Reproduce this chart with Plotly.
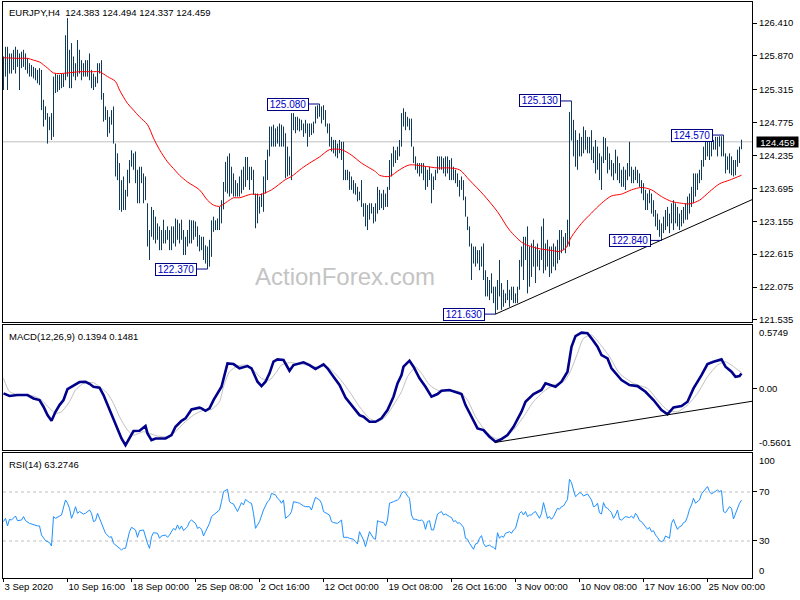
import plotly.graph_objects as go

# ---------------- data ----------------
symbol_title = "EURJPY,H4  124.383 124.494 124.337 124.459"
macd_title = "MACD(12,26,9) 0.1394 0.1481"
rsi_title = "RSI(14) 63.2746"
watermark = "ActionForex.com"

# H4 bar highs / lows, bar index 0..369 (left to right)
highs = [
    125.86, 126.02, 126.02, 125.91, 125.91, 125.97, 126.02, 125.97, 125.91, 125.94,
    125.97, 125.91, 125.83, 125.75, 125.72, 125.69, 125.67, 125.64, 125.67, 125.64,
    125.15, 125.04, 124.93, 124.87, 124.93, 125.53, 125.58, 125.56, 125.56, 125.58,
    125.58, 126.21, 126.49, 125.97, 126.08, 125.86, 125.75, 126.13, 125.97, 125.80,
    125.75, 125.80, 125.80, 125.91, 125.64, 125.58, 125.53, 125.75, 125.75, 125.80,
    125.26, 125.04, 124.98, 124.87, 124.98, 125.04, 124.43, 124.27, 124.11, 123.83,
    123.89, 123.67, 124.00, 124.16, 124.32, 124.27, 124.30, 124.00, 124.05, 124.05,
    123.94, 123.89, 123.45, 123.01, 123.39, 123.34, 123.23, 123.12, 123.07, 123.01,
    123.18, 123.01, 123.07, 123.01, 123.07, 123.07, 123.20, 123.18, 123.12, 123.18,
    123.01, 122.90, 123.01, 123.18, 123.17, 123.17, 123.15, 123.07, 122.93, 122.90,
    122.90, 122.76, 122.74, 122.85, 123.17, 123.23, 123.17, 123.20, 123.39, 123.50,
    123.80, 124.13, 124.22, 124.27, 124.05, 123.94, 123.83, 123.78, 123.89, 124.00,
    124.05, 124.21, 124.21, 124.05, 124.05, 124.00, 123.61, 123.61, 123.56, 123.61,
    123.89, 124.16, 124.33, 124.71, 124.71, 124.74, 124.68, 124.71, 124.76, 124.74,
    124.71, 124.60, 124.38, 124.22, 124.93, 124.93, 124.87, 124.87, 124.84, 124.82,
    124.76, 124.82, 124.76, 124.76, 124.76, 124.79, 125.04, 125.06, 125.08, 125.04,
    125.06, 124.98, 124.76, 124.76, 124.54, 124.49, 124.49, 124.43, 124.49, 124.46,
    124.46, 124.00, 124.00, 123.97, 123.89, 123.83, 123.78, 123.72, 123.64, 123.83,
    123.45, 123.45, 123.42, 123.45, 123.45, 123.39, 123.45, 123.72, 123.67, 123.61,
    123.67, 123.61, 123.72, 124.16, 124.27, 124.38, 124.32, 124.38, 124.49, 124.93,
    125.01, 124.95, 124.87, 124.84, 124.84, 124.38, 124.22, 124.11, 124.11, 124.11,
    124.11, 124.05, 124.00, 124.05, 123.94, 123.89, 124.00, 124.22, 124.22, 124.22,
    124.19, 124.22, 124.22, 124.16, 124.19, 124.05, 124.00, 123.94, 123.83, 123.89,
    123.83, 123.56, 123.23, 123.07, 122.79, 122.74, 122.74, 122.68, 122.68, 122.74,
    122.79, 122.35, 122.24, 122.19, 122.30, 122.08, 122.08, 122.19, 122.52, 122.14,
    122.03, 121.97, 122.19, 122.03, 122.08, 122.08, 121.97, 122.08, 122.52, 122.74,
    122.90, 122.90, 123.07, 122.74, 122.79, 122.85, 122.74, 122.79, 122.68, 123.07,
    123.20, 122.79, 122.85, 122.74, 122.74, 122.79, 122.74, 122.85, 123.01, 123.01,
    122.90, 122.96, 123.18, 124.95, 125.13, 124.82, 124.65, 124.49, 124.60, 124.54,
    124.71, 124.65, 124.54, 124.54, 124.65, 124.38, 124.49, 124.38, 124.27, 124.22,
    124.54, 124.52, 124.38, 124.27, 124.16, 124.11, 124.33, 124.22, 124.11, 124.00,
    124.05, 124.00, 124.11, 124.46, 124.05, 124.00, 124.05, 124.00, 123.94, 123.83,
    123.78, 123.67, 123.61, 123.67, 123.61, 123.50, 123.34, 123.28, 123.18, 123.12,
    123.23, 123.34, 123.39, 123.28, 123.45, 123.50, 123.45, 123.39, 123.28, 123.34,
    123.39, 123.45, 123.56, 123.61, 123.72, 123.94, 123.94, 123.94, 124.00, 124.16,
    124.38, 124.49, 124.55, 124.54, 124.55, 124.49, 124.54, 124.54, 124.55, 124.55,
    124.57, 124.27, 124.22, 124.27, 124.22, 124.16, 124.16, 124.33, 124.38, 124.494,
]
lows = [
    125.31, 125.53, 125.31, 125.58, 125.58, 125.64, 125.58, 125.69, 125.31, 125.67,
    125.69, 125.64, 125.58, 125.53, 125.53, 125.50, 125.47, 125.42, 125.39, 124.98,
    124.71, 124.82, 124.43, 124.65, 124.49, 124.54, 125.26, 125.28, 125.31, 125.34,
    125.36, 125.47, 125.53, 125.34, 125.34, 125.53, 125.47, 125.53, 125.58, 125.47,
    125.53, 125.53, 125.53, 125.47, 125.34, 125.31, 125.36, 125.42, 125.58, 125.15,
    124.79, 124.82, 124.54, 124.60, 124.74, 124.43, 123.89, 123.83, 123.34, 123.31,
    123.34, 123.34, 123.56, 123.78, 124.05, 124.00, 123.78, 123.45, 123.45, 123.78,
    123.45, 123.50, 122.74, 122.52, 122.90, 122.85, 122.79, 122.85, 122.68, 122.68,
    122.79, 122.79, 122.85, 122.68, 122.68, 122.79, 122.74, 122.85, 122.79, 122.85,
    122.60, 122.60, 122.74, 122.79, 122.79, 122.85, 122.90, 122.74, 122.66, 122.68,
    122.52, 122.46, 122.37, 122.41, 122.57, 122.98, 123.01, 123.01, 123.01, 123.12,
    123.35, 123.64, 123.61, 123.56, 123.61, 123.56, 123.56, 123.56, 123.56, 123.61,
    123.67, 123.72, 123.83, 123.67, 123.83, 123.59, 123.04, 123.12, 123.28, 123.39,
    123.31, 123.61, 123.83, 124.22, 124.38, 124.38, 124.38, 124.43, 124.38, 124.38,
    124.38, 123.86, 123.89, 123.91, 123.83, 124.65, 124.60, 124.65, 124.63, 124.65,
    124.54, 124.60, 124.38, 124.54, 124.57, 124.60, 124.76, 124.84, 124.87, 124.76,
    124.82, 124.71, 124.60, 124.38, 124.30, 124.27, 124.22, 124.19, 124.27, 124.16,
    123.83, 123.83, 123.83, 123.67, 123.67, 123.61, 123.59, 123.48, 123.50, 123.39,
    123.23, 123.07, 123.01, 123.18, 123.28, 123.12, 123.15, 123.28, 123.34, 123.37,
    123.34, 123.39, 123.39, 123.67, 123.89, 124.05, 124.11, 124.16, 124.22, 124.38,
    124.71, 124.65, 124.71, 124.65, 124.38, 124.11, 124.00, 123.94, 123.89, 123.94,
    123.83, 123.67, 123.72, 123.83, 123.45, 123.67, 123.83, 123.94, 124.00, 124.00,
    123.94, 123.89, 123.94, 123.83, 123.83, 123.83, 123.78, 123.72, 123.56, 123.67,
    123.50, 123.23, 123.01, 122.74, 122.19, 122.46, 122.41, 122.46, 122.35, 122.41,
    122.19, 121.92, 121.92, 121.86, 121.97, 121.81, 121.63, 121.70, 121.92, 121.70,
    121.75, 121.81, 121.86, 121.75, 121.86, 121.81, 121.81, 121.81, 122.03, 122.41,
    122.19, 122.52, 121.97, 122.08, 122.24, 122.41, 122.14, 122.41, 122.35, 122.52,
    122.30, 122.35, 122.41, 122.24, 122.30, 122.41, 122.35, 122.46, 122.52, 122.63,
    122.68, 122.63, 122.74, 122.74, 124.48, 124.22, 124.05, 124.00, 124.22, 124.22,
    124.27, 124.33, 124.27, 124.27, 124.16, 124.11, 123.94, 124.00, 123.83, 123.67,
    124.11, 124.16, 123.94, 124.00, 123.89, 123.83, 123.94, 123.83, 123.78, 123.72,
    123.72, 123.67, 123.83, 123.89, 123.78, 123.78, 123.83, 123.78, 123.72, 123.61,
    123.50, 123.34, 123.34, 123.45, 123.28, 123.23, 123.07, 123.01, 122.90, 122.84,
    122.96, 123.01, 123.07, 122.96, 123.12, 123.01, 123.12, 123.07, 123.01, 123.07,
    123.12, 123.18, 123.18, 123.28, 123.39, 123.45, 123.56, 123.67, 123.78, 123.83,
    124.05, 124.16, 124.22, 124.16, 124.22, 124.33, 124.33, 124.22, 124.38, 124.22,
    124.22, 123.94, 124.00, 123.94, 123.91, 123.89, 123.91, 124.05, 124.11, 124.337,
]
last_close = 124.459

# red moving average (bar, value)
ma_points = [
    (0, 125.84), (7, 125.83), (12, 125.83), (15, 125.80), (18, 125.77), (22, 125.67),
    (25, 125.59), (28, 125.58), (32, 125.59), (38, 125.61), (45, 125.61), (48, 125.61),
    (52, 125.53), (56, 125.45), (58, 125.31), (62, 125.09), (65, 124.98), (68, 124.87),
    (72, 124.74), (75, 124.52), (78, 124.33), (82, 124.13), (85, 124.02), (88, 123.91),
    (92, 123.80), (98, 123.67), (102, 123.50), (105, 123.42), (108, 123.40), (112, 123.48),
    (115, 123.54), (118, 123.54), (124, 123.60), (128, 123.59), (134, 123.67), (141, 123.84),
    (144, 123.89), (149, 124.02), (154, 124.13), (158, 124.21), (163, 124.33), (169, 124.33),
    (174, 124.24), (179, 124.11), (186, 123.97), (188, 123.91), (193, 123.89), (198, 124.00),
    (203, 124.08), (210, 124.06), (217, 124.03), (223, 124.03), (228, 124.00), (233, 123.83),
    (240, 123.59), (247, 123.31), (253, 123.01), (260, 122.79), (267, 122.71), (273, 122.68),
    (278, 122.66), (281, 122.71), (284, 122.90), (289, 123.12), (294, 123.29), (299, 123.45),
    (304, 123.57), (309, 123.60), (314, 123.67), (319, 123.71), (324, 123.67), (329, 123.56),
    (334, 123.48), (339, 123.45), (343, 123.44), (348, 123.50), (353, 123.64), (358, 123.77),
    (363, 123.83), (369, 123.91),
]

# price trend line (bar, price)
trend_points = [(246, 121.63), (375, 123.52)]

# swing labels
label_bars = [102, 158, 246, 284, 329, 360]
label_prices = [122.37, 125.08, 121.63, 125.13, 122.84, 124.57]
label_texts = ["122.370", "125.080", "121.630", "125.130", "122.840", "124.570"]

# MACD main line (bar, value)
macd_points = [
    (0, -0.043), (3, -0.067), (7, -0.058), (12, -0.058), (15, -0.089), (18, -0.104),
    (20, -0.165), (22, -0.242), (24, -0.294), (26, -0.211), (28, -0.150), (30, -0.104),
    (32, -0.003), (34, 0.018), (38, 0.061), (41, 0.064), (43, 0.045), (45, 0.018),
    (48, 0.009), (50, -0.058), (52, -0.150), (54, -0.242), (57, -0.364), (59, -0.456),
    (61, -0.517), (63, -0.456), (65, -0.388), (68, -0.385), (71, -0.342), (72, -0.410),
    (74, -0.471), (76, -0.456), (79, -0.456), (81, -0.456), (84, -0.425), (86, -0.349),
    (89, -0.294), (91, -0.272), (94, -0.190), (98, -0.174), (99, -0.180), (101, -0.202),
    (103, -0.180), (105, -0.104), (109, 0.018), (111, 0.156), (112, 0.232), (115, 0.226),
    (118, 0.187), (122, 0.208), (124, 0.187), (127, 0.064), (129, 0.024), (131, 0.064),
    (133, 0.141), (135, 0.248), (137, 0.269), (140, 0.263), (143, 0.165), (145, 0.217),
    (150, 0.242), (153, 0.217), (156, 0.180), (160, 0.223), (162, 0.187), (165, 0.110),
    (168, 0.034), (171, -0.080), (175, -0.171), (178, -0.242), (180, -0.257), (183, -0.303),
    (186, -0.303), (189, -0.272), (192, -0.196), (195, -0.073), (197, 0.049), (199, 0.125),
    (200, 0.202), (203, 0.257), (205, 0.202), (208, 0.095), (211, 0.018), (214, -0.073),
    (217, -0.049), (219, -0.018), (223, -0.012), (226, -0.028), (229, -0.049), (231, -0.150),
    (234, -0.257), (237, -0.364), (240, -0.379), (243, -0.440), (246, -0.486), (249, -0.462),
    (252, -0.425), (255, -0.349), (259, -0.211), (261, -0.119), (265, -0.049), (269, -0.012),
    (271, 0.049), (273, 0.034), (276, 0.018), (279, 0.064), (282, 0.156), (284, 0.385),
    (286, 0.483), (289, 0.514), (292, 0.508), (294, 0.462), (297, 0.385), (299, 0.309),
    (302, 0.278), (304, 0.187), (309, 0.080), (313, 0.034), (317, 0.024), (321, -0.028),
    (325, -0.104), (329, -0.196), (332, -0.235), (335, -0.171), (339, -0.159), (342, -0.119),
    (345, 0.003), (349, 0.125), (352, 0.226), (355, 0.248), (359, 0.269), (361, 0.202),
    (364, 0.156), (366, 0.110), (368, 0.116), (369, 0.139),
]

# MACD signal line (bar, value)
signal_points = [
    (0, 0.095), (3, -0.027), (8, -0.058), (15, -0.067), (19, -0.104), (23, -0.180),
    (26, -0.226), (29, -0.211), (33, -0.119), (36, -0.012), (40, 0.049), (45, 0.055),
    (48, 0.018), (52, -0.043), (55, -0.135), (58, -0.257), (62, -0.379), (65, -0.425),
    (70, -0.394), (73, -0.410), (77, -0.434), (82, -0.440), (86, -0.394), (90, -0.318),
    (95, -0.242), (100, -0.196), (104, -0.190), (108, -0.119), (110, 0.018), (113, 0.156),
    (117, 0.208), (122, 0.217), (125, 0.171), (129, 0.095), (133, 0.080), (136, 0.141),
    (139, 0.217), (143, 0.239), (149, 0.226), (156, 0.202), (161, 0.202), (164, 0.171),
    (168, 0.095), (173, -0.027), (178, -0.165), (183, -0.272), (187, -0.303), (191, -0.257),
    (195, -0.150), (199, -0.027), (202, 0.110), (206, 0.196), (209, 0.141), (213, 0.034),
    (218, -0.021), (223, -0.018), (228, -0.027), (232, -0.104), (236, -0.257), (240, -0.364),
    (243, -0.425), (247, -0.462), (251, -0.440), (255, -0.379), (260, -0.257), (265, -0.119),
    (270, -0.027), (275, 0.034), (280, 0.064), (283, 0.141), (287, 0.324), (290, 0.462),
    (294, 0.492), (298, 0.416), (303, 0.294), (308, 0.141), (315, 0.049), (322, 0.003),
    (327, -0.104), (332, -0.196), (337, -0.211), (342, -0.150), (347, -0.043), (352, 0.110),
    (357, 0.217), (361, 0.248), (365, 0.202), (369, 0.148),
]

# MACD trend line (bar, value)
macd_trend_points = [(246, -0.492), (375, -0.113)]

# RSI(14) (bar, value)
rsi_points = [
    (0, 45.8), (1, 48.5), (2, 42.3), (3, 47.7), (4, 47.1), (5, 48.5), (6, 50.4), (7, 46.6), (8, 47.1), (9, 47.1),
    (10, 49.9), (11, 46.6), (13, 44.4), (15, 43.1), (17, 42.3), (18, 42.3), (19, 34.9), (21, 30.3), (23, 28.7), (24, 25.9),
    (25, 49.9), (26, 48.5), (28, 49.9), (29, 51.2), (31, 63.5), (32, 60.8), (33, 56.7), (34, 48.5), (35, 52.6), (36, 58.0),
    (37, 52.6), (38, 54.0), (40, 52.0), (41, 52.6), (43, 55.3), (44, 52.6), (45, 45.8), (46, 46.6), (47, 52.6), (48, 48.5),
    (50, 39.0), (51, 36.3), (53, 33.0), (54, 33.5), (55, 28.1), (57, 25.4), (59, 22.7), (60, 24.0), (61, 24.0), (63, 37.6),
    (64, 41.2), (66, 39.0), (67, 33.0), (68, 38.4), (69, 39.0), (70, 39.0), (72, 28.1), (73, 24.0), (74, 33.5), (75, 36.8),
    (77, 36.3), (78, 32.2), (79, 34.1), (81, 34.9), (82, 33.0), (83, 34.9), (85, 40.3), (86, 39.0), (87, 43.1), (88, 39.5),
    (89, 42.3), (90, 38.4), (92, 41.7), (93, 45.8), (94, 47.1), (96, 44.4), (97, 40.3), (98, 41.2), (99, 39.5), (100, 34.1),
    (101, 37.6), (103, 44.4), (104, 49.9), (105, 51.2), (106, 52.6), (108, 55.3), (109, 62.1), (110, 70.3), (112, 72.2), (113, 62.1),
    (114, 60.8), (115, 60.2), (117, 54.0), (118, 58.0), (119, 61.3), (120, 59.4), (121, 64.0), (123, 61.3), (124, 60.8), (125, 52.6),
    (126, 40.3), (128, 45.8), (129, 51.2), (130, 55.3), (132, 62.1), (133, 63.5), (134, 68.9), (136, 67.6), (137, 64.9), (138, 63.5),
    (139, 60.8), (140, 63.5), (141, 48.5), (143, 51.2), (144, 54.0), (145, 62.1), (147, 61.3), (148, 60.8), (150, 58.6), (151, 58.0),
    (153, 58.0), (154, 55.3), (155, 60.8), (156, 65.6), (158, 63.5), (159, 60.8), (160, 54.0), (161, 53.1), (163, 51.2), (164, 45.8),
    (165, 45.0), (167, 44.4), (168, 45.8), (169, 47.1), (170, 33.0), (172, 33.0), (173, 32.2), (175, 31.4), (176, 29.5), (177, 27.6),
    (178, 37.6), (180, 30.8), (181, 25.4), (182, 30.8), (183, 37.6), (185, 32.2), (186, 31.4), (187, 46.6), (188, 45.8), (190, 45.0),
    (191, 42.3), (192, 47.1), (193, 60.8), (195, 62.1), (197, 63.5), (198, 64.9), (199, 68.9), (200, 70.3), (201, 69.5), (202, 66.7),
    (203, 64.9), (204, 51.2), (205, 47.7), (206, 47.7), (208, 46.6), (209, 47.1), (210, 45.8), (211, 39.5), (212, 45.8), (213, 46.6),
    (214, 39.0), (215, 39.0), (216, 45.8), (217, 52.0), (218, 53.1), (219, 54.0), (220, 51.2), (221, 52.0), (223, 49.9), (224, 49.1),
    (225, 45.8), (226, 46.6), (227, 44.4), (228, 45.0), (230, 41.2), (231, 32.2), (232, 31.4), (233, 28.1), (235, 23.2), (236, 27.6),
    (237, 28.1), (238, 32.2), (239, 34.4), (240, 28.1), (241, 25.4), (243, 26.7), (244, 25.4), (245, 24.8), (246, 23.2), (247, 36.8),
    (248, 32.2), (249, 34.1), (250, 33.0), (251, 36.3), (253, 37.6), (254, 36.3), (255, 39.0), (256, 40.3), (258, 52.6), (259, 54.0),
    (260, 51.2), (261, 54.0), (262, 49.9), (263, 51.2), (264, 51.2), (265, 53.1), (266, 54.0), (268, 48.5), (269, 52.6), (270, 61.3),
    (271, 54.8), (272, 48.5), (273, 49.9), (274, 47.7), (275, 49.9), (277, 56.7), (278, 55.9), (279, 58.0), (280, 58.6), (282, 64.0),
    (283, 80.4), (284, 77.6), (285, 71.6), (286, 66.2), (287, 67.6), (288, 69.5), (289, 68.9), (290, 66.7), (292, 68.4), (293, 66.2),
    (294, 63.5), (295, 58.0), (296, 58.6), (297, 60.8), (298, 53.1), (299, 52.0), (300, 61.3), (301, 57.5), (302, 56.7), (303, 54.8),
    (304, 53.1), (305, 48.5), (306, 51.2), (307, 55.3), (308, 47.7), (309, 47.1), (310, 48.5), (311, 49.9), (313, 49.1), (314, 50.4),
    (315, 48.5), (316, 52.6), (317, 50.4), (318, 46.6), (319, 45.8), (320, 43.9), (322, 39.5), (323, 41.2), (324, 37.6), (325, 38.4),
    (326, 34.9), (327, 33.0), (328, 30.3), (329, 29.5), (330, 30.3), (331, 34.1), (333, 32.2), (334, 44.4), (335, 47.7), (336, 43.1),
    (337, 39.5), (338, 41.7), (339, 42.3), (340, 45.0), (341, 45.8), (342, 49.9), (343, 55.9), (344, 59.4), (345, 64.9), (346, 60.8),
    (348, 63.5), (349, 68.4), (350, 70.3), (351, 73.0), (352, 74.4), (353, 70.3), (354, 68.4), (355, 69.5), (357, 71.6), (358, 70.3),
    (359, 71.1), (360, 54.0), (361, 53.1), (363, 58.0), (364, 56.7), (365, 48.0), (366, 52.6), (367, 58.0), (368, 60.8), (369, 63.27),
]
rsi_levels = [70, 30]

# axes
x_tick_bars = [0, 32, 64, 96, 128, 160, 192, 224, 256, 288, 320, 352]
x_tick_labels = ["3 Sep 2020", "10 Sep 16:00", "18 Sep 00:00", "25 Sep 08:00", "2 Oct 16:00",
                 "12 Oct 00:00", "19 Oct 08:00", "26 Oct 16:00", "3 Nov 00:00", "10 Nov 08:00",
                 "17 Nov 16:00", "25 Nov 00:00"]
price_ticks = [126.410, 125.870, 125.315, 124.775, 124.235, 123.695, 123.155, 122.615, 122.075, 121.535]
price_tick_labels = ["126.410", "125.870", "125.315", "124.775", "124.235",
                     "123.695", "123.155", "122.615", "122.075", "121.535"]
macd_ticks = [0.0]
macd_tick_labels = ["0.00"]
macd_max_label, macd_min_label = "0.5749", "-0.5601"
rsi_ticks = [70, 30]
rsi_tick_labels = ["70", "30"]
rsi_max_label, rsi_min_label = "100", "0"

# ---------------- style ----------------
FONT = "Liberation Sans"
BAR_COLOR = "#0f3a5a"
MA_COLOR = "#ff0000"
MACD_COLOR = "#00008b"
SIGNAL_COLOR = "#c0c0c0"
RSI_COLOR = "#1e90ff"
LEVEL_COLOR = "#c0c0c0"
LABEL_FONT = dict(family=FONT, size=9.5, color="black")

fig = go.Figure()

# price bars as vertical high-low segments
bx, by = [], []
for i, (h, l) in enumerate(zip(highs, lows)):
    bx += [i, i, None]
    by += [l, h, None]
fig.add_trace(go.Scatter(x=bx, y=by, mode="lines", line=dict(color=BAR_COLOR, width=1),
                         xaxis="x", yaxis="y", hoverinfo="skip"))

fig.add_trace(go.Scatter(x=[p[0] for p in ma_points], y=[p[1] for p in ma_points], mode="lines",
                         line=dict(color=MA_COLOR, width=1, shape="spline", smoothing=0.8),
                         xaxis="x", yaxis="y"))
fig.add_trace(go.Scatter(x=[p[0] for p in trend_points], y=[p[1] for p in trend_points], mode="lines",
                         line=dict(color="black", width=1), xaxis="x", yaxis="y"))

# MACD
fig.add_trace(go.Scatter(x=[p[0] for p in signal_points], y=[p[1] for p in signal_points], mode="lines",
                         line=dict(color=SIGNAL_COLOR, width=1, shape="spline", smoothing=0.6),
                         xaxis="x2", yaxis="y2"))
fig.add_trace(go.Scatter(x=[p[0] for p in macd_points], y=[p[1] for p in macd_points], mode="lines",
                         line=dict(color=MACD_COLOR, width=2.6), xaxis="x2", yaxis="y2"))
fig.add_trace(go.Scatter(x=[p[0] for p in macd_trend_points], y=[p[1] for p in macd_trend_points],
                         mode="lines", line=dict(color="black", width=1), xaxis="x2", yaxis="y2"))

# RSI
fig.add_trace(go.Scatter(x=[p[0] for p in rsi_points], y=[p[1] for p in rsi_points], mode="lines",
                         line=dict(color=RSI_COLOR, width=1), xaxis="x3", yaxis="y3"))

shapes = [dict(type="line", xref="x domain", yref="y", x0=0, x1=1, y0=last_close, y1=last_close,
               line=dict(color="#c0c0c0", width=1), layer="below")]
for lv in rsi_levels:
    shapes.append(dict(type="line", xref="x3 domain", yref="y3", x0=0, x1=1, y0=lv, y1=lv,
                       line=dict(color=LEVEL_COLOR, width=1, dash="3px,3px"), layer="below"))

annotations = []
for b, p, t in zip(label_bars, label_prices, label_texts):
    annotations.append(dict(x=b, y=p, xref="x", yref="y", text=t, showarrow=True, arrowhead=0,
                            arrowwidth=1, arrowcolor="#000080", ax=-32, ay=0, standoff=0,
                            bordercolor="#000080", borderwidth=1, borderpad=0, bgcolor="white",
                            width=40, height=11,
                            font=dict(family=FONT, size=10, color="#0000c8")))
annotations.append(dict(x=1, y=last_close, xref="paper", yref="y", text=f"{last_close:.3f}",
                        showarrow=False, xanchor="left", xshift=4, bgcolor="black", borderpad=0,
                        width=41, height=10, font=dict(family=FONT, size=9.5, color="white")))
annotations.append(dict(x=0, y=1, xref="x domain", yref="y domain", text=symbol_title, showarrow=False,
                        xanchor="left", yanchor="top", xshift=4, yshift=-3, font=LABEL_FONT))
annotations.append(dict(x=0, y=1, xref="x2 domain", yref="y2 domain", text=macd_title, showarrow=False,
                        xanchor="left", yanchor="top", xshift=4, yshift=-4, font=LABEL_FONT))
annotations.append(dict(x=0, y=1, xref="x3 domain", yref="y3 domain", text=rsi_title, showarrow=False,
                        xanchor="left", yanchor="top", xshift=4, yshift=-4, font=LABEL_FONT))
for txt, yref, ypos, anc in [(macd_max_label, "y2 domain", 1, "top"), (macd_min_label, "y2 domain", 0, "bottom"),
                              (rsi_max_label, "y3 domain", 1, "top"), (rsi_min_label, "y3 domain", 0, "bottom")]:
    annotations.append(dict(x=1, y=ypos, xref="paper", yref=yref, text=txt, showarrow=False,
                            xanchor="left", yanchor=anc, xshift=5, font=LABEL_FONT))
annotations.append(dict(x=0.4566, y=0.5226, xref="paper", yref="paper", text=watermark, showarrow=False,
                        font=dict(family=FONT, size=24, color="#c4c4c4")))

xr = [-0.25, 374.25]
axis_common = dict(showline=True, mirror=True, linecolor="black", linewidth=1, showgrid=False,
                   zeroline=False, automargin=False)
fig.update_layout(
    width=800, height=600, margin=dict(l=3, r=48, t=2, b=22, autoexpand=False),
    paper_bgcolor="white", plot_bgcolor="white", showlegend=False,
    font=dict(family=FONT, size=9.5, color="black"),
    xaxis=dict(domain=[0, 1], anchor="y", range=xr, showticklabels=False, ticks="", **axis_common),
    yaxis=dict(domain=[0.4444, 1.0], anchor="x", range=[121.50, 126.755], side="right",
               tickvals=price_ticks, ticktext=price_tick_labels, ticks="outside", ticklen=4,
               tickcolor="black", tickfont=LABEL_FONT, **axis_common),
    xaxis2=dict(domain=[0, 1], anchor="y2", range=xr, showticklabels=False, ticks="", **axis_common),
    yaxis2=dict(domain=[0.2222, 0.4392], anchor="x2", range=[-0.562, 0.584], side="right",
                tickvals=macd_ticks, ticktext=macd_tick_labels, ticks="outside", ticklen=4,
                tickcolor="black", tickfont=LABEL_FONT, **axis_common),
    xaxis3=dict(domain=[0, 1], anchor="y3", range=xr, tickvals=x_tick_bars, ticktext=x_tick_labels,
                ticks="outside", ticklen=3, tickcolor="black", ticklabelposition="outside right",
                tickangle=0, tickfont=LABEL_FONT, **axis_common),
    yaxis3=dict(domain=[0, 0.2170], anchor="x3", range=[-0.2, 101.8], side="right",
                tickvals=rsi_ticks, ticktext=rsi_tick_labels, ticks="outside", ticklen=4,
                tickcolor="black", tickfont=LABEL_FONT, **axis_common),
    shapes=shapes, annotations=annotations,
)

fig.write_html("out.html", config={"displayModeBar": False, "staticPlot": True},
               post_script="document.body.style.margin='0px';document.body.style.overflow='hidden';")
